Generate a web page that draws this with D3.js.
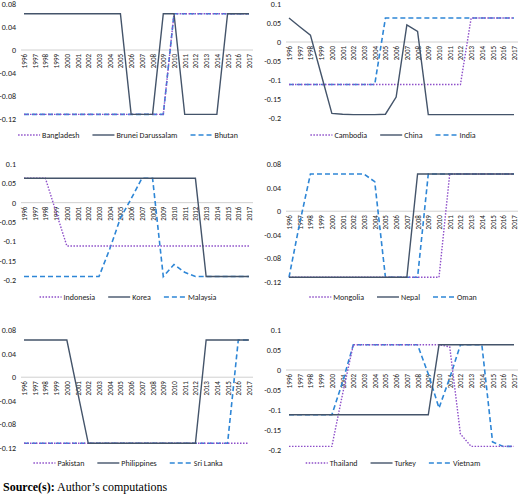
<!DOCTYPE html><html><head><meta charset="utf-8"><script src="https://cdn.jsdelivr.net/npm/d3@7"></script>
<style>body{margin:0;background:#fff}svg{font-family:Calibri,"Liberation Sans",Arial,sans-serif}</style></head><body>
<svg id="c" width="520" height="498"></svg>
<script>
const years = d3.range(1996, 2018).map(String);
const H = 0.063, L = -0.112, B = -0.191;
const bangladesh = [L,L,L,L,L,L,L,L,L,L,L,L,L,L,H,H,H,H,H,H,H,H];
const brunei = [H,H,H,H,H,H,H,H,H,H,L,L,L,H,H,L,L,L,L,H,H,H];
const bhutan = [L,L,L,L,L,L,L,L,L,L,L,L,L,L,H,H,H,H,H,H,H,H];
const cambodia = [L,L,L,L,L,L,L,L,L,L,L,L,L,L,L,L,L,H,H,H,H,H];
const china = [0.063,0.04,0.018,-0.085,-0.188,-0.19,-0.191,-0.191,-0.191,-0.19,-0.145,0.045,0.028,B,B,B,B,B,B,B,B,B];
const india = [L,L,L,L,L,L,L,L,L,H,H,H,H,H,H,H,H,H,H,H,H,H];
const indonesia = [H,H,H,-0.025,L,L,L,L,L,L,L,L,L,L,L,L,L,L,L,L,L,L];
const korea = [H,H,H,H,H,H,H,H,H,H,H,H,H,H,H,H,H,B,B,B,B,B];
const malaysia = [B,B,B,B,B,B,B,B,-0.12,-0.04,0.01,H,H,B,-0.16,-0.18,B,B,B,B,B,B];
const mongolia = [L,L,L,L,L,L,L,L,L,L,L,L,L,L,L,H,H,H,H,H,H,H];
const nepal = [L,L,L,L,L,L,L,L,L,L,L,L,H,H,H,H,H,H,H,H,H,H];
const oman = [L,-0.02,H,H,H,H,H,H,0.05,L,L,L,L,H,H,H,H,H,H,H,H,H];
const pakistan = years.map(()=>L);
const philippines = [H,H,H,H,H,-0.025,L,L,L,L,L,L,L,L,L,L,L,H,H,H,H,H];
const srilanka = [L,L,L,L,L,L,L,L,L,L,L,L,L,L,L,L,L,L,L,L,H,H];
const thailand = [B,B,B,B,B,-0.06,H,H,H,H,H,H,H,H,H,0.058,-0.16,B,B,B,B,B];
const turkey = [L,L,L,L,L,L,L,L,L,L,L,L,L,L,H,H,H,H,H,H,H,H];
const vietnam = [L,L,L,L,L,-0.03,H,H,H,H,H,H,H,-0.01,-0.095,-0.02,H,H,H,-0.18,B,B];
const ticksA = [0.08,0.04,0,-0.04,-0.08,-0.12];
const ticksB = [0.1,0.05,0,-0.05,-0.1,-0.15,-0.2];
const styles = [{c:"#8e4fc9",d:"1.5,1.5",w:1.4},{c:"#44546a",d:null,w:1.4},{c:"#2e86d6",d:"5,3",w:1.6}];
const panels = [
 {x:24,y:4,h:115,ticks:ticksA,names:["Bangladesh","Brunei Darussalam","Bhutan"],data:[bangladesh,brunei,bhutan],ly:135},
 {x:289,y:4,h:114,ticks:ticksB,names:["Cambodia","China","India"],data:[cambodia,china,india],ly:135},
 {x:24,y:164,h:116,ticks:ticksB,names:["Indonesia","Korea","Malaysia"],data:[indonesia,korea,malaysia],ly:297},
 {x:289,y:164,h:118,ticks:ticksA,names:["Mongolia","Nepal","Oman"],data:[mongolia,nepal,oman],ly:297},
 {x:24,y:330,h:118,ticks:ticksA,names:["Pakistan","Philippines","Sri Lanka"],data:[pakistan,philippines,srilanka],ly:463},
 {x:289,y:330,h:120,ticks:ticksB,names:["Thailand","Turkey","Vietnam"],data:[thailand,turkey,vietnam],ly:463}
];
const svg = d3.select("#c");
panels.forEach(p=>{
  const g = svg.append("g");
  const x = d3.scalePoint().domain(years).range([p.x, p.x+225]);
  const y = d3.scaleLinear().domain([p.ticks[p.ticks.length-1], p.ticks[0]]).range([p.y+p.h, p.y]);
  p.ticks.forEach(t=>{
    g.append("text").attr("x",p.x-8).attr("y",y(t)+3).attr("text-anchor","end").attr("font-size",8).attr("fill","#222").text(t===0?"0":(t<0?"-":"")+Math.abs(t));
  });
  g.append("line").attr("x1",p.x-3).attr("x2",p.x+229).attr("y1",y(0)).attr("y2",y(0)).attr("stroke","#d0d0d0").attr("stroke-width",1);
  years.forEach(yr=>{
    g.append("text").attr("transform",`translate(${x(yr)+3},${y(0)+4}) rotate(-90)`).attr("text-anchor","end").attr("font-size",7).attr("fill","#222").text(yr);
  });
  const line = d3.line().x((d,i)=>x(years[i])).y(d=>y(d));
  [2,0,1].forEach(k=>{
    const s = styles[k];
    g.append("path").datum(p.data[k]).attr("d",line).attr("fill","none").attr("stroke",s.c).attr("stroke-width",s.w).attr("stroke-dasharray",s.d);
  });
  // legend
  const lg = g.append("g");
  let lx = 0;
  p.names.forEach((n,k)=>{
    const s = styles[k];
    lg.append("line").attr("x1",lx).attr("x2",lx+22).attr("y1",p.ly).attr("y2",p.ly).attr("stroke",s.c).attr("stroke-width",s.w).attr("stroke-dasharray",s.d);
    const t = lg.append("text").attr("x",lx+24).attr("y",p.ly+3).attr("font-size",8).attr("fill","#222").text(n);
    lx += 24 + t.node().getComputedTextLength() + 13;
  });
  lx -= 13;
  lg.attr("transform",`translate(${p.x + 104 - lx/2},0)`);
});
const src = svg.append("text").attr("x",3).attr("y",491).attr("font-family","'Liberation Serif','Times New Roman',serif").attr("font-size",12);
src.append("tspan").attr("font-weight","bold").text("Source(s):");
src.append("tspan").text(" Author’s computations");
</script></body></html>
